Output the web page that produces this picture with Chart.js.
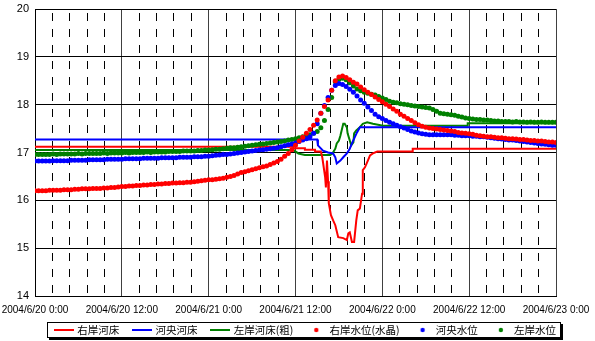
<!DOCTYPE html>
<html lang="ja">
<head>
<meta charset="UTF-8">
<title>水位・河床高</title>
<script src="https://cdn.jsdelivr.net/npm/chart.js"></script>
<style>
  body { margin: 0; background: #fff; }
  #chart { display: block; }
</style>
</head>
<body>
<canvas id="chart" width="595" height="341"></canvas>
<script>
// major tick labels, one every 12 h (minor dashed lines every 2.4 h)
const xTickLabels = ['2004/6/20 0:00', '2004/6/20 12:00', '2004/6/21 0:00', '2004/6/21 12:00',
                     '2004/6/22 0:00', '2004/6/22 12:00', '2004/6/23 0:00'];
const stepHours = 0.5; // water level readings every 30 min from 2004/6/20 0:00

// 右岸水位(水晶)
const rightLevel = [
  16.20,16.20,16.20,16.20,16.21,16.21,16.21,16.21,16.22,16.22,
  16.22,16.23,16.23,16.24,16.24,16.24,16.25,16.25,16.25,16.26,
  16.26,16.27,16.27,16.28,16.29,16.29,16.30,16.30,16.31,16.31,
  16.32,16.32,16.33,16.33,16.34,16.34,16.35,16.35,16.36,16.36,
  16.37,16.37,16.38,16.38,16.39,16.40,16.41,16.42,16.43,16.43,
  16.44,16.45,16.46,16.48,16.50,16.52,16.55,16.58,16.60,16.62,
  16.64,16.66,16.68,16.70,16.72,16.75,16.78,16.81,16.86,16.92,
  16.98,17.06,17.15,17.24,17.32,17.40,17.48,17.57,17.68,17.82,
  17.96,18.10,18.30,18.50,18.58,18.60,18.57,18.52,18.47,18.43,
  18.37,18.31,18.26,18.21,18.16,18.11,18.06,18.01,17.96,17.91,
  17.86,17.80,17.76,17.71,17.67,17.62,17.58,17.55,17.53,17.51,
  17.50,17.49,17.48,17.47,17.46,17.45,17.44,17.42,17.41,17.40,
  17.39,17.38,17.36,17.35,17.34,17.33,17.33,17.32,17.31,17.31,
  17.30,17.29,17.29,17.28,17.27,17.27,17.26,17.25,17.25,17.24,
  17.24,17.23,17.22,17.22,17.21
];
// 河央水位
const centerLevel = [
  16.82,16.82,16.82,16.82,16.82,16.83,16.83,16.83,16.83,16.83,
  16.84,16.84,16.84,16.84,16.84,16.85,16.85,16.85,16.85,16.85,
  16.86,16.86,16.86,16.86,16.86,16.87,16.87,16.87,16.87,16.87,
  16.88,16.88,16.88,16.88,16.88,16.89,16.89,16.89,16.89,16.89,
  16.90,16.90,16.90,16.90,16.91,16.91,16.91,16.92,16.92,16.93,
  16.94,16.95,16.96,16.96,16.97,16.98,16.99,17.00,17.01,17.02,
  17.03,17.04,17.05,17.06,17.07,17.08,17.09,17.10,17.12,17.14,
  17.16,17.18,17.20,17.23,17.26,17.29,17.33,17.40,17.60,17.82,
  17.98,18.15,18.30,18.40,18.44,18.42,18.38,18.32,18.26,18.18,
  18.10,18.03,17.95,17.88,17.80,17.75,17.71,17.67,17.63,17.60,
  17.57,17.54,17.51,17.48,17.45,17.43,17.41,17.39,17.38,17.37,
  17.37,17.37,17.37,17.37,17.37,17.37,17.36,17.36,17.35,17.35,
  17.35,17.34,17.34,17.33,17.33,17.32,17.31,17.30,17.29,17.28,
  17.27,17.26,17.26,17.25,17.24,17.23,17.22,17.21,17.20,17.19,
  17.18,17.17,17.16,17.15,17.15
];
// 左岸水位
const leftLevel = [
  16.96,16.96,16.96,16.96,16.96,16.97,16.96,16.97,16.97,16.97,
  16.97,16.97,16.98,16.97,16.98,16.98,16.98,16.98,16.98,16.99,
  16.98,16.99,16.99,16.99,16.99,17.00,16.99,17.00,17.00,17.00,
  17.00,17.01,17.00,17.01,17.01,17.01,17.01,17.02,17.02,17.02,
  17.02,17.03,17.03,17.03,17.03,17.04,17.04,17.05,17.05,17.06,
  17.07,17.07,17.08,17.09,17.10,17.10,17.11,17.12,17.13,17.14,
  17.15,17.16,17.17,17.18,17.19,17.20,17.21,17.22,17.23,17.24,
  17.26,17.27,17.29,17.31,17.33,17.35,17.37,17.40,17.44,17.52,
  17.67,17.90,18.15,18.48,18.53,18.55,18.52,18.46,18.39,18.33,
  18.29,18.26,18.24,18.22,18.20,18.17,18.14,18.11,18.07,18.05,
  18.04,18.02,18.01,18.00,17.98,17.97,17.96,17.95,17.94,17.93,
  17.90,17.86,17.82,17.81,17.80,17.79,17.78,17.76,17.74,17.72,
  17.71,17.70,17.69,17.69,17.68,17.68,17.67,17.66,17.66,17.65,
  17.65,17.65,17.64,17.65,17.64,17.64,17.63,17.64,17.63,17.63,
  17.64,17.63,17.63,17.63,17.63
];

// 右岸河床 (hours from start, bed level)
const rightBedHours = [0, 35.7, 35.7, 37.3, 37.3, 38.7, 38.7, 39.5, 39.7, 40.1, 40.2, 40.35, 40.5, 40.6, 40.9, 41.2,
  41.5, 41.9, 42.6, 43.1, 43.3, 43.5, 43.8, 44.1, 44.4, 44.6, 44.9, 45.2, 45.3, 45.6, 46.0, 46.3, 46.7, 47.3, 52.2, 52.2, 72];
const rightBed = [17.12, 17.12, 17.09, 17.09, 17.06, 17.06, 17.02, 17.02, 16.90, 16.48, 16.27, 16.83, 16.40, 15.94, 15.69, 15.58,
  15.48, 15.23, 15.21, 15.17, 15.31, 15.33, 15.13, 15.13, 15.58, 15.79, 15.83, 16.14, 16.63, 16.69, 16.83, 16.94, 16.98, 17.02, 17.02, 17.08, 17.08];
// 河央河床
const centerBedHours = [0, 39.0, 39.1, 39.8, 40.5, 41.2, 41.5, 41.7, 42.2, 42.6, 43.1, 43.5, 43.8, 44.5, 44.9, 72];
const centerBed = [17.27, 17.27, 17.15, 17.04, 17.00, 16.98, 16.90, 16.77, 16.83, 16.90, 16.98, 17.08, 17.19, 17.42, 17.53, 17.53];
// 左岸河床(粗)
const leftBedHours = [0, 35.7, 36.4, 37.3, 40.8, 41.1, 41.5, 41.7, 42.0, 42.2, 42.6, 42.8, 43.1, 43.2, 43.7, 44.0,
  44.1, 44.4, 44.9, 45.3, 45.9, 46.7, 48.1, 59.8, 59.8, 72];
const leftBed = [17.05, 17.05, 16.98, 16.95, 16.95, 16.98, 17.08, 17.19, 17.25, 17.35, 17.60, 17.60, 17.52, 17.40, 17.15, 17.21,
  17.40, 17.46, 17.53, 17.60, 17.63, 17.60, 17.56, 17.56, 17.61, 17.61];

const RED = '#ff0000', BLUE = '#0000ff', GREEN = '#008000';

function lineSet(label, hours, values, color) {
  return {
    label, borderColor: color, backgroundColor: color, borderWidth: 2,
    pointRadius: 0, pointHoverRadius: 0, tension: 0, order: 2,
    data: hours.map((h, i) => ({ x: h, y: values[i] }))
  };
}
function dotSet(label, values, color) {
  return {
    label, borderColor: color, backgroundColor: color, showLine: false,
    pointRadius: 2.5, pointHoverRadius: 2.5, pointBorderWidth: 0, order: 1,
    data: values.map((v, i) => ({ x: i * stepHours, y: v }))
  };
}

// small legend swatches: a short line or a single dot
function lineIcon(color) {
  const c = document.createElement('canvas');
  c.width = 20; c.height = 2;
  const g = c.getContext('2d');
  g.fillStyle = color; g.fillRect(0, 0, 20, 2);
  return c;
}
function dotIcon(color) {
  const c = document.createElement('canvas');
  c.width = 20; c.height = 6;
  const g = c.getContext('2d');
  g.fillStyle = color; g.beginPath(); g.arc(10, 3, 2.2, 0, Math.PI * 2); g.fill();
  return c;
}

// moves the legend under the plot and draws Excel-like frame with shadow
const legendFrame = {
  id: 'legendFrame',
  afterLayout(chart) {
    const lg = chart.legend;
    const pad = lg.options.labels.padding;
    const start = (lg.left + pad + lg.right - lg.lineWidths[0]) / 2;
    const dx = 306 - (start + (lg.lineWidths[0] - pad) / 2);
    const dy = 309.75 - lg.top;
    lg.left += dx; lg.right += dx;
    lg.top += dy; lg.bottom += dy;
  },
  beforeDraw(chart) {
    const boxes = chart.legend.legendHitBoxes;
    if (!boxes || !boxes.length) return;
    const ctx = chart.ctx;
    const left = Math.round(Math.min(...boxes.map(b => b.left)) - 9);
    const right = Math.round(Math.max(...boxes.map(b => b.left + b.width)) + 5);
    const top = Math.round(boxes[0].top - 3);
    const h = Math.round(boxes[0].height + 5);
    const w = right - left;
    ctx.save();
    ctx.fillStyle = '#000';
    ctx.fillRect(left + 2, top + 2, w, h);
    ctx.fillStyle = '#fff';
    ctx.fillRect(left, top, w, h);
    ctx.strokeStyle = '#000';
    ctx.lineWidth = 1;
    ctx.strokeRect(left + 0.5, top + 0.5, w - 1, h - 1);
    ctx.restore();
  }
};

const isMinor = c => c.type === 'tick' && c.index % 5 !== 0;

new Chart(document.getElementById('chart'), {
  type: 'line',
  data: {
    datasets: [
      lineSet('右岸河床', rightBedHours, rightBed, RED),
      lineSet('河央河床', centerBedHours, centerBed, BLUE),
      lineSet('左岸河床(粗)', leftBedHours, leftBed, GREEN),
      dotSet('右岸水位(水晶)', rightLevel, RED),
      dotSet('河央水位', centerLevel, BLUE),
      dotSet('左岸水位', leftLevel, GREEN)
    ]
  },
  options: {
    responsive: false,
    animation: false,
    events: [],
    layout: { padding: { left: 0, right: 39, top: 9, bottom: -10.5 } },
    plugins: {
      tooltip: { enabled: false },
      legend: {
        position: 'bottom',
        labels: {
          usePointStyle: true,
          pointStyleWidth: 16,
          padding: 15,
          color: '#000',
          font: { family: "'Noto Sans CJK JP', sans-serif", size: 10.5 },
          sort: (a, b) => a.datasetIndex - b.datasetIndex,
          generateLabels(chart) {
            const items = Chart.defaults.plugins.legend.labels.generateLabels(chart);
            items.forEach(it => {
              const ds = chart.data.datasets[it.datasetIndex];
              it.pointStyle = ds.showLine === false ? dotIcon(ds.borderColor) : lineIcon(ds.borderColor);
            });
            return items;
          }
        }
      }
    },
    scales: {
      x: {
        type: 'linear',
        min: 0,
        max: 72,
        afterBuildTicks: s => {
          s.ticks = [];
          for (let i = 0; i <= 30; i++) s.ticks.push({ value: i * 2.4 });
        },
        afterFit: s => {
          s.height = 20;
          s.paddingLeft = 0; s.paddingRight = 0;
        },
        grid: {
          color: c => isMinor(c) ? '#000' : '#404040',
          lineWidth: 1,
          drawTicks: false
        },
        border: {
          color: '#000',
          dash: c => isMinor(c) ? [8, 8] : [],
          dashOffset: 12
        },
        ticks: {
          autoSkip: false,
          maxRotation: 0,
          padding: 8,
          color: '#000',
          font: { family: "'Liberation Sans', Arial, sans-serif", size: 10 },
          callback: (v, i) => i % 5 === 0 ? xTickLabels[i / 5] : ''
        }
      },
      y: {
        min: 14,
        max: 20,
        afterFit: s => {
          s.width = 35;
          s.paddingTop = 0; s.paddingBottom = 0;
        },
        grid: { color: '#000', lineWidth: 1, drawTicks: false },
        border: { color: '#000' },
        ticks: {
          stepSize: 1,
          padding: 6,
          color: '#000',
          font: { family: "'Liberation Sans', Arial, sans-serif", size: 11 }
        }
      }
    }
  },
  plugins: [legendFrame]
});
</script>
</body>
</html>
